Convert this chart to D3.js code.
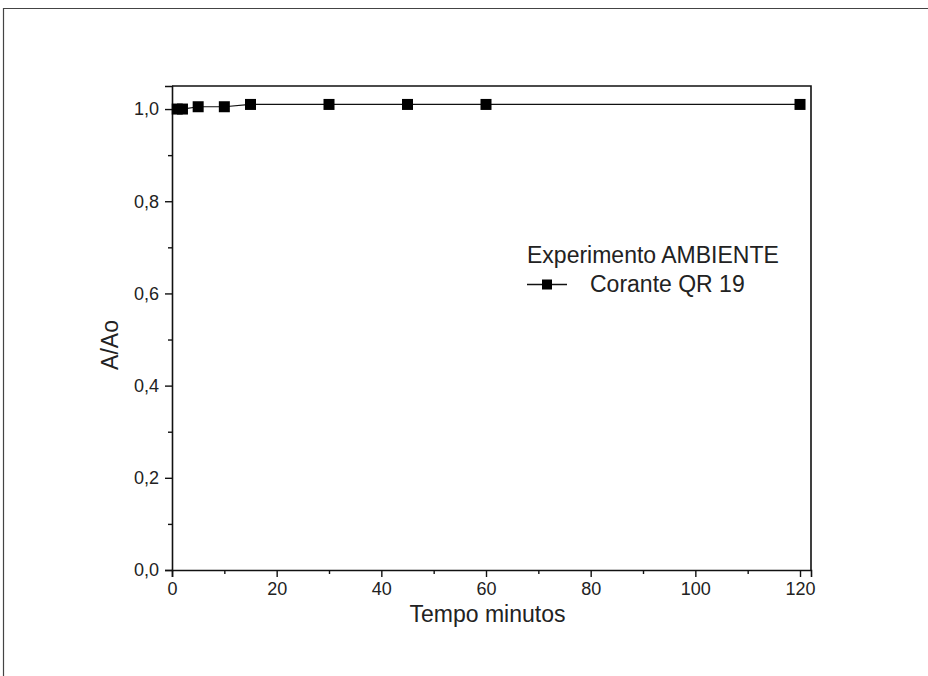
<!DOCTYPE html>
<html>
<head>
<meta charset="utf-8">
<script src="https://cdn.jsdelivr.net/npm/d3@7"></script>
<style>
  body { margin: 0; background: #fff; }
  svg { display: block; font-family: "Liberation Sans", Arial, sans-serif; }
</style>
</head>
<body>
<div id="chart"></div>
<script>
// data
const tempo = [1, 2, 5, 10, 15, 30, 45, 60, 120];
const razao = [1.0, 1.0, 1.005, 1.005, 1.01, 1.01, 1.01, 1.01, 1.01];
const xTicks = [0, 20, 40, 60, 80, 100, 120];
const yTicks = [0, 0.2, 0.4, 0.6, 0.8, 1.0];
const legendTitle = "Experimento AMBIENTE";
const seriesName = "Corante QR 19";

const W = 928, H = 676;
const margin = { top: 86, right: 117, bottom: 106, left: 172 };
const width = W - margin.left - margin.right;
const height = H - margin.top - margin.bottom;

const svg = d3.select("#chart")
    .append("svg")
    .attr("width", W)
    .attr("height", H);

// outer frame
svg.append("path")
    .attr("d", `M3.5,${H} V8.5 H${W}`)
    .attr("fill", "none")
    .attr("stroke", "#444")
    .attr("stroke-width", 1.2);

const g = svg.append("g")
    .attr("transform", `translate(${margin.left},${margin.top})`);

const x = d3.scaleLinear().domain([0, 122.1]).range([0, width]);
const y = d3.scaleLinear().domain([0, 1.05]).range([height, 0]);

// minor ticks
const xMinor = d3.range(10, 121, 20);
const yMinor = d3.range(0.1, 1.0, 0.2);

const xAxis = g.append("g")
    .attr("transform", `translate(0,${height})`)
    .call(d3.axisBottom(x).tickValues(xTicks).tickSize(7).tickPadding(5)
        .tickFormat(d3.format("d")));
xAxis.selectAll("text").style("font-size", "18px").attr("fill", "#222");

g.append("g")
    .attr("transform", `translate(0,${height})`)
    .call(d3.axisBottom(x).tickValues(xMinor).tickSize(4).tickFormat(""))
    .call(s => s.select(".domain").remove());

const yAxis = g.append("g")
    .call(d3.axisLeft(y).tickValues(yTicks).tickSize(7).tickPadding(6)
        .tickFormat(d => d3.format(".1f")(d).replace(".", ",")));
yAxis.selectAll("text").style("font-size", "18px").attr("fill", "#222");

g.append("g")
    .call(d3.axisLeft(y).tickValues(yMinor).tickSize(4).tickFormat(""))
    .call(s => s.select(".domain").remove());

g.selectAll(".domain").attr("stroke", "#111").attr("stroke-width", 1.6);
g.selectAll(".tick line").attr("stroke", "#111").attr("stroke-width", 1.4);

// top and right frame of the plot
g.append("path")
    .attr("d", `M0,0 H${width} V${height}`)
    .attr("fill", "none")
    .attr("stroke", "#111")
    .attr("stroke-width", 1.6);

// series
const pts = tempo.map((t, i) => [t, razao[i]]);
g.append("path")
    .datum(pts)
    .attr("fill", "none")
    .attr("stroke", "#111")
    .attr("stroke-width", 1.2)
    .attr("d", d3.line().x(d => x(d[0])).y(d => y(d[1])));

const sq = 11;
g.selectAll("rect.pt")
    .data(pts)
    .join("rect")
    .attr("class", "pt")
    .attr("x", d => x(d[0]) - sq / 2)
    .attr("y", d => y(d[1]) - sq / 2)
    .attr("width", sq)
    .attr("height", sq)
    .attr("fill", "#000");

// axis titles
g.append("text")
    .attr("x", width / 2 - 4)
    .attr("y", height + 52)
    .attr("text-anchor", "middle")
    .style("font-size", "23px")
    .attr("fill", "#222")
    .text("Tempo minutos");

g.append("text")
    .attr("transform", `translate(${-54},${height / 2 + 17}) rotate(-90)`)
    .attr("text-anchor", "middle")
    .style("font-size", "23px")
    .attr("fill", "#222")
    .text("A/Ao");

// legend
const lg = svg.append("g").attr("transform", "translate(527,0)");
lg.append("text")
    .attr("x", 0)
    .attr("y", 263)
    .style("font-size", "23px")
    .attr("fill", "#222")
    .text(legendTitle);
lg.append("line")
    .attr("x1", 0).attr("x2", 40)
    .attr("y1", 284.5).attr("y2", 284.5)
    .attr("stroke", "#111").attr("stroke-width", 1.4);
lg.append("rect")
    .attr("x", 15).attr("y", 279.5)
    .attr("width", 10).attr("height", 10)
    .attr("fill", "#000");
lg.append("text")
    .attr("x", 63)
    .attr("y", 292)
    .style("font-size", "23px")
    .attr("fill", "#222")
    .text(seriesName);
</script>
</body>
</html>
